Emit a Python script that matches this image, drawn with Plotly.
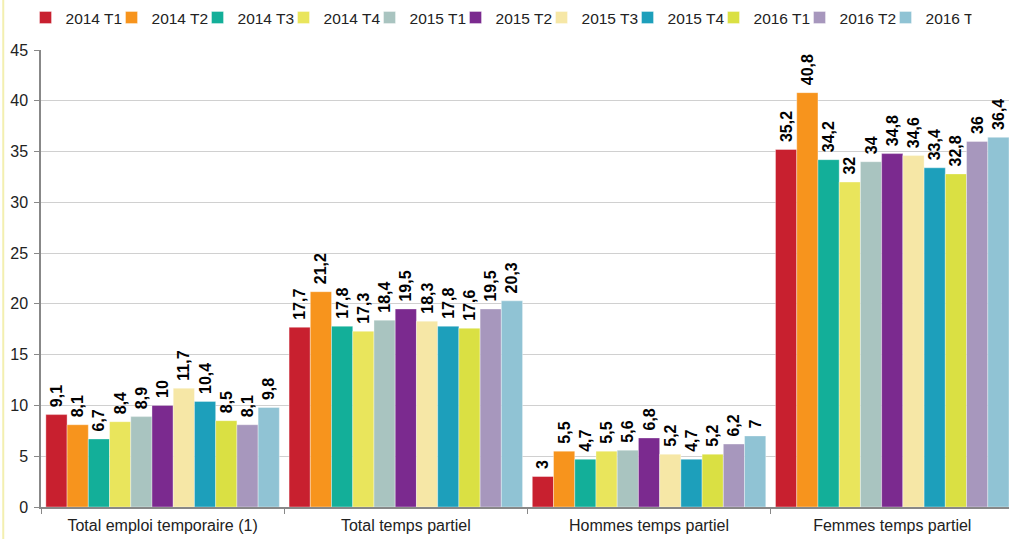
import plotly.graph_objects as go

categories = ["Total emploi temporaire (1)", "Total temps partiel", "Hommes temps partiel", "Femmes temps partiel"]
series_names = ["2014 T1", "2014 T2", "2014 T3", "2014 T4", "2015 T1", "2015 T2",
                "2015 T3", "2015 T4", "2016 T1", "2016 T2", "2016 T3"]
total_temporaire = [9.1, 8.1, 6.7, 8.4, 8.9, 10, 11.7, 10.4, 8.5, 8.1, 9.8]
total_partiel = [17.7, 21.2, 17.8, 17.3, 18.4, 19.5, 18.3, 17.8, 17.6, 19.5, 20.3]
hommes_partiel = [3, 5.5, 4.7, 5.5, 5.6, 6.8, 5.2, 4.7, 5.2, 6.2, 7]
femmes_partiel = [35.2, 40.8, 34.2, 32, 34, 34.8, 34.6, 33.4, 32.8, 36, 36.4]
colors = ["#C8202F", "#F7941D", "#13AF99", "#E9E55C", "#A9C4C0", "#7B2A8F",
          "#F6E7A6", "#1D9FBB", "#DAE043", "#A797BD", "#90C3D4"]

groups = [total_temporaire, total_partiel, hommes_partiel, femmes_partiel]

font = "Arial, Liberation Sans, sans-serif"
fig = go.Figure()
for i, name in enumerate(series_names):
    vals = [g[i] for g in groups]
    txt = ["\u00a0" + ("%g" % v).replace(".", ",") for v in vals]
    fig.add_trace(go.Bar(
        x=categories, y=vals, name=name,
        marker=dict(color=colors[i], line=dict(width=0.6, color="rgba(255,255,255,0.6)")),
        text=txt, textposition="outside", textangle=-90,
        constraintext="none",
        textfont=dict(family=font, size=16, color="#000000", weight="bold"),
        cliponaxis=False,
    ))

fig.update_layout(
    barmode="group", bargap=0.04, bargroupgap=0,
    width=1009, height=540,
    margin=dict(l=41, r=0, t=50, b=33, autoexpand=False),
    paper_bgcolor="white", plot_bgcolor="white",
    font=dict(family=font, size=16, color="#222222"),
    legend=dict(orientation="h", x=-0.016, xanchor="left", y=1.033, yanchor="bottom",
                font=dict(family=font, size=15.5, color="#222222"),
                entrywidth=41, entrywidthmode="pixels",
                itemwidth=30, tracegroupgap=0, bgcolor="rgba(0,0,0,0)"),
    showlegend=True,
)
fig.update_xaxes(
    range=[-0.5, 3.48], tickson="boundaries", ticks="outside", ticklen=5,
    tickcolor="#888888", showline=True, linecolor="#888888", linewidth=1.5,
    showgrid=False, automargin=False, ticklabelstandoff=3,
    tickfont=dict(family=font, size=16, color="#222222"),
)
fig.update_yaxes(
    range=[0, 45], dtick=5, ticks="outside", ticklen=5, tickcolor="#888888",
    showline=True, linecolor="#888888", linewidth=1.5, automargin=False,
    ticklabelstandoff=3,
    showgrid=True, gridcolor="#D0D0D0", gridwidth=1, zeroline=False,
    tickfont=dict(family=font, size=16, color="#222222"),
)
fig.add_shape(type="line", xref="paper", yref="paper", x0=-0.039, x1=-0.039, y0=-0.07, y1=1.11,
              line=dict(color="#F3EFB0", width=2))
fig.write_html("out.html", config={"displayModeBar": False},
               post_script="document.body.style.margin='0';document.body.style.padding='0';")
